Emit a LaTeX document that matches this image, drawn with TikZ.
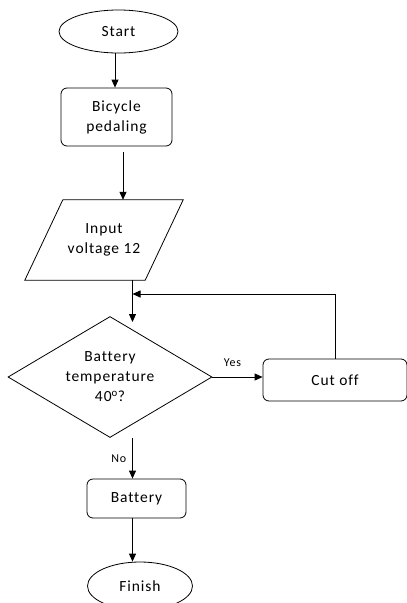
\documentclass[tikz,border=0pt]{standalone}
\usepackage{fontspec}
\setmainfont{Carlito}[LetterSpace=6, Ligatures=NoCommon]
\usepackage{tikz}
\usetikzlibrary{shapes.geometric,arrows.meta}

\tikzset{
	box/.style = {draw, line width = 0.8pt, rounded corners = 6pt, align = center},
	term/.style = {draw, line width = 0.8pt, ellipse, inner sep = 0pt},
	flow/.style = {line width = 0.8pt, -{Triangle[length = 8pt, width = 7pt]}},
	lbl/.style = {font = \fontsize{12}{14}\selectfont, inner sep = 2pt}
}

\begin{document}
\begin{tikzpicture}[x = 1pt, y = -1pt, font = \fontsize{15.5}{20}\selectfont]
\useasboundingbox (0,0) rectangle (407,603);

\node[term, minimum width = 119pt, minimum height = 43pt] (start) at (118.5,31.5) {Start};
\node[box, minimum width = 111pt, minimum height = 58pt] (pedal) at (116.5,117) {Bicycle\\pedaling};
\node[minimum width = 158pt, minimum height = 80pt, inner sep = 0pt, align = center] (input) at (104,240) {Input\\voltage 12};
\draw[line width = 0.8pt] (input.south west) -- ([xshift = -38pt]input.south east) -- (input.north east)
	-- ([xshift = 38pt]input.north west) -- cycle;
\node[draw, line width = 0.8pt, diamond, aspect = 1.8, minimum width = 204pt, minimum height = 121pt, inner sep = 0pt, align = center] (temp) at (110,377) {Battery\\temperature\\40\textsuperscript{o}?};
\node[box, minimum width = 144pt, minimum height = 42pt] (cutoff) at (335,380) {Cut off};
\node[box, minimum width = 99pt, minimum height = 39pt] (battery) at (136.5,498.5) {Battery};
\node[term, minimum width = 105pt, minimum height = 48pt] (finish) at (140,586) {Finish};

\coordinate (join) at (132.5,294);
\coordinate (tip) at (132.5,322);
\coordinate (out) at (123,152);

\draw[flow] ([xshift = -3.5pt]start.south) -- ([xshift = -3.5pt]start.south |- pedal.north);
\draw[flow] (out) -- (out |- input.north);
\draw[flow] (join |- input.south) -- (tip);
\draw[flow] (cutoff.north) |- (join);
\draw[flow] (temp.east) -- (temp.east -| cutoff.west) node[lbl, pos = 0.4, above = 8pt] {Yes};
\draw[flow] (join |- temp.south) -- (join |- battery.north) node[lbl, midway, left = 4pt] {No};
\draw[flow] (join |- battery.south) -- (join |- finish.north);
\end{tikzpicture}
\end{document}
